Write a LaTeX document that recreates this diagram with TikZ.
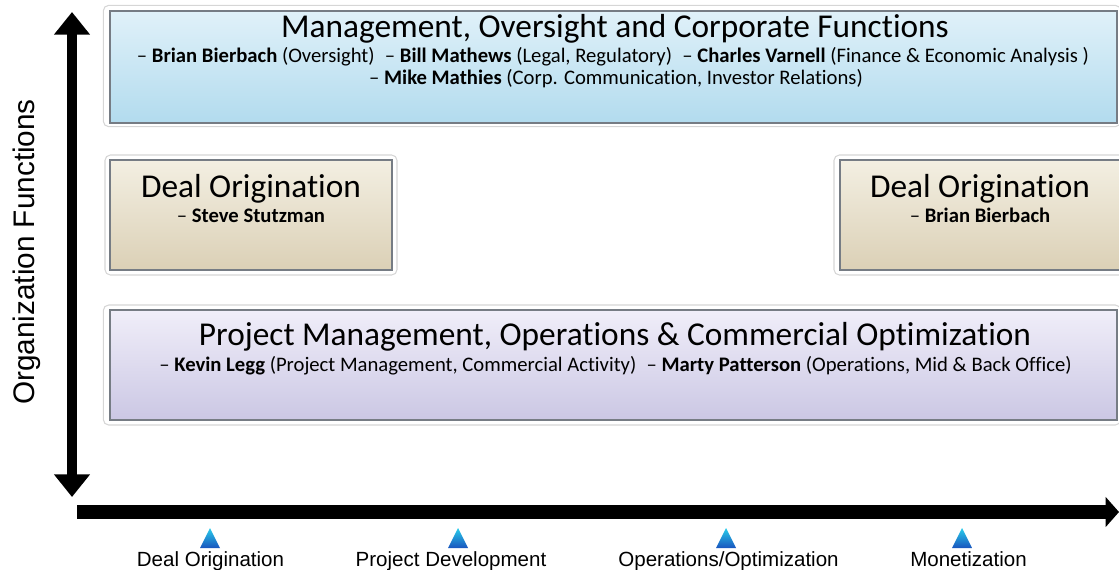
\documentclass[tikz,border=0pt]{standalone}
\usepackage{fontspec}
\setmainfont[Ligatures=NoCommon]{Carlito}
\newfontfamily\arialf{Liberation Sans}
\usetikzlibrary{arrows.meta,calc}
\definecolor{blueT}{RGB}{224,241,249}
\definecolor{blueB}{RGB}{178,219,238}
\definecolor{tanT}{RGB}{243,239,226}
\definecolor{tanB}{RGB}{219,208,182}
\definecolor{lavT}{RGB}{240,238,249}
\definecolor{lavB}{RGB}{203,199,228}
\definecolor{boxline}{RGB}{118,124,132}
\definecolor{triT}{RGB}{40,205,235}
\definecolor{triB}{RGB}{25,85,190}
\begin{document}
\begin{tikzpicture}[x=0.75pt,y=-0.75pt,
  halo/.style={draw=black!16, line width=0.8pt, rounded corners=4pt, fill=white, inner sep=0pt},
  panel/.style={draw=boxline, line width=1.1pt, inner sep=0pt},
  bluebox/.style={panel, top color=blueT, bottom color=blueB},
  tanbox/.style={panel, top color=tanT, bottom color=tanB},
  lavbox/.style={panel, top color=lavT, bottom color=lavB},
  ttl/.style={font=\fontsize{25}{28}\selectfont, anchor=base, inner sep=0pt},
  sub/.style={font=\fontsize{15.5}{18}\selectfont, anchor=base, inner sep=0pt},
  axlab/.style={font=\arialf\fontsize{15.4}{18}\selectfont, anchor=base, inner sep=0pt},
  tri/.style={top color=triT, bottom color=triB, draw=none},
  axis/.style={line width=7.5pt}
]
\useasboundingbox (0,0) rectangle (1119,569);

% ---- halos
\node[halo, minimum width=763pt, minimum height=91pt] (mgmtH) at (612,66) {};
\node[halo, minimum width=219pt, minimum height=90pt] (dealAH) at (251,215) {};
\node[halo, minimum width=222pt, minimum height=90pt] (dealBH) at (982,215) {};
\node[halo, minimum width=763pt, minimum height=90pt] (pmH) at (612,365) {};

% ---- boxes
\node[bluebox, minimum width=755pt, minimum height=84pt] (mgmt) at (613.5,67) {};
\node[tanbox, minimum width=211.5pt, minimum height=82.5pt] (dealA) at (251,215) {};
\node[tanbox, minimum width=214pt, minimum height=82.5pt] (dealB) at (982.5,215) {};
\node[lavbox, minimum width=755pt, minimum height=82.5pt] (pm) at (613.5,365) {};

% ---- texts
\node[ttl] (mgmtT) at (615,37) {Management, Oversight and Corporate Functions};
\node[sub] (mgmtS1) at (613,62) {– \textbf{Brian Bierbach} (Oversight)\hspace{0.5em}– \textbf{Bill Mathews} (Legal, Regulatory)\hspace{0.5em}– \textbf{Charles Varnell} (Finance \& Economic Analysis )};
\node[sub] (mgmtS2) at (616,84) {– \textbf{Mike Mathies} (Corp. Communication, Investor Relations)};

\node[ttl] (dealAT) at (251,197) {Deal Origination};
\node[sub] (dealAS) at (251,222) {– \textbf{Steve Stutzman}};
\node[ttl] (dealBT) at (980,197) {Deal Origination};
\node[sub] (dealBS) at (980,222) {– \textbf{Brian Bierbach}};

\node[ttl] (pmT) at (615,345) {Project Management, Operations \& Commercial Optimization};
\node[sub] (pmS) at (615.5,371) {– \textbf{Kevin Legg} (Project Management, Commercial Activity)\hspace{0.5em}– \textbf{Marty Patterson} (Operations, Mid \& Back Office)};

% ---- axes
\coordinate (vTop) at (72,12);
\coordinate (vBot) at (72,497);
\coordinate (hL) at (77,512);
\coordinate (hR) at (1119,512);
\draw[axis, {Triangle[width=26pt,length=17pt]}-{Triangle[width=26pt,length=17pt]}] (vTop) -- (vBot);
\draw[axis, line width=10.5pt, -{Triangle[width=22pt,length=10pt]}] (hL) -- (hR);

\node[font=\arialf\fontsize{22.3}{26}\selectfont, rotate=90, inner sep=0pt] (ylab) at (27,252) {Organization Functions};

% ---- stage markers
\shade[tri] (200,548) -- (210,528) -- (220,548) -- cycle;
\shade[tri] (448,548) -- (458,528) -- (468,548) -- cycle;
\shade[tri] (716,548) -- (726,528) -- (736,548) -- cycle;
\shade[tri] (952,548) -- (962,528) -- (972,548) -- cycle;
\node[axlab] (s1) at (210.5,566) {Deal Origination};
\node[axlab] (s2) at (451,566) {Project Development};
\node[axlab] (s3) at (728.5,566) {Operations/Optimization};
\node[axlab] (s4) at (968.5,566) {Monetization};
\end{tikzpicture}
\end{document}
